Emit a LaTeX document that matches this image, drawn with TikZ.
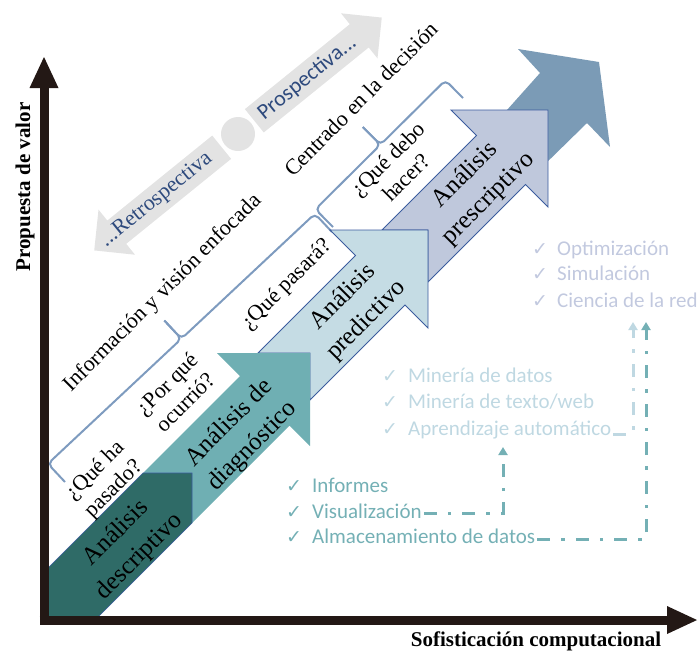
\documentclass[tikz,border=0pt]{standalone}
\usepackage{fontspec}
\setmainfont{Liberation Serif}
\newfontfamily\calib{Carlito}
\newfontfamily\djv{DejaVu Sans}
\usetikzlibrary{arrows.meta}
\definecolor{axiscol}{HTML}{231815}
\definecolor{grayarr}{HTML}{E3E3E3}
\definecolor{navy}{HTML}{2E4A7D}
\definecolor{darkteal}{HTML}{2F6B67}
\definecolor{midteal}{HTML}{6FAFB3}
\definecolor{lightblue}{HTML}{C5DCE4}
\definecolor{lavender}{HTML}{BFC8DC}
\definecolor{steel}{HTML}{7B9BB6}
\definecolor{bordercol}{HTML}{3B5C9E}
\definecolor{bracecol}{HTML}{7E9BBF}
\definecolor{listteal}{HTML}{74B0B5}
\definecolor{listblue}{HTML}{BFD8E2}
\definecolor{listlav}{HTML}{C2C9DF}
\tikzset{
  lbl/.style={font=\fontsize{22pt}{26pt}\selectfont, align=center, rotate=45, inner sep=0pt},
  arrlbl/.style={font=\fontsize{25pt}{33pt}\selectfont, align=center, rotate=45, inner sep=0pt},
  grylbl/.style={font=\fontsize{22pt}{26pt}\selectfont, text=navy, rotate=39, inner sep=0pt},
  axlbl/.style={font=\bfseries\fontsize{21pt}{25pt}\selectfont, inner sep=0pt},
  li/.style={anchor=base west, inner sep=0pt, font=\calib\fontsize{21pt}{24pt}\selectfont},
  ck/.style={anchor=base west, inner sep=0pt, font=\djv\fontsize{19pt}{20pt}\selectfont},
  dd/.style={line width=3pt, dash pattern=on 13pt off 11pt on 3.5pt off 11pt, -{Triangle[length=8pt,width=9pt]}},
  brc/.style={draw=bracecol, line width=2pt, rounded corners=5pt},
  bigarr/.style={draw=bordercol, line width=0.9pt, line join=miter},
}
\begin{document}
\begin{tikzpicture}[x=1pt, y=-1pt]
\useasboundingbox (0,0) rectangle (700,654);

% gray double arrow
\begin{scope}[shift={(238,134)}, rotate=39]
  \fill[grayarr] (21,-15) -- (156,-15) -- (156,-29) -- (185,0) -- (156,29) -- (156,15) -- (21,15) -- cycle;
  \fill[grayarr] (-21,-15) -- (-156,-15) -- (-156,-29) -- (-185,0) -- (-156,29) -- (-156,15) -- (-21,15) -- cycle;
  \fill[grayarr] (0,0) circle (17);
  \node[grylbl, font=\calib\fontsize{22pt}{26pt}\selectfont] (pros) at (89,0) {Prospectiva...};
  \node[grylbl] (retro) at (-105,0) {...Retrospectiva};
\end{scope}

% braces
\draw[brc] (65,482) -- (47.9,463.75) -- (181.4,338.75) -- (164.35,320.5);
\draw[brc] (164.35,320.5) -- (181.4,338.75) -- (314.9,213.75) -- (332,232);
\draw[brc] (333,227) -- (315.4,209.25) -- (380.4,144.75) -- (362.8,127);
\draw[brc] (362.8,127) -- (380.4,144.75) -- (445.4,80.25) -- (463,98);

% big arrows (back to front)
\fill[steel] (490,129) -- (540,73) -- (518,49) -- (599,62) -- (610,147) -- (587,123) -- (540,169) -- cycle;
\filldraw[bigarr, fill=lavender] (382,230) -- (476.5,135.5) -- (451,110) -- (548,110) -- (548,207) -- (525.5,184.5) -- (428,282) -- (428,230) -- cycle;
\filldraw[bigarr, fill=lightblue] (258,353) -- (355.5,255.5) -- (330,230) -- (428,230) -- (428,328) -- (405,305) -- (310,400) -- (310,353) -- cycle;
\fill[midteal] (143,473) -- (240,376) -- (217,353) -- (310,353) -- (310,446) -- (289.5,425.5) -- (192,523) -- (192,473) -- cycle;
\filldraw[bigarr, fill=darkteal, line width=0.6pt] (45,571) -- (143,473) -- (192,473) -- (192,523) -- (95,620) -- (45,620) -- cycle;

% arrow labels
\node[arrlbl] (desc) at (128,545) {Análisis\\descriptivo};
\node[arrlbl] (diag) at (241,435) {Análisis de\\diagnóstico};
\node[arrlbl] (pred) at (355,309) {Análisis\\predictivo};
\node[arrlbl] (pres) at (477,187) {Análisis\\prescriptivo};

% question labels
\node[lbl] (q1) at (105,480) {¿Qué ha\\pasado?};
\node[lbl] (q2) at (176,393) {¿Por qué\\ocurrió?};
\node[lbl] (q3) at (287,285) {¿Qué pasará?};
\node[lbl] (q4) at (397,168) {¿Qué debo\\hacer?};
\node[lbl] (info) at (163,293) {Información y visión enfocada};
\node[lbl] (cent) at (361,99) {Centrado en la decisión};

% lists
\begin{scope}[text=listteal]
  \node[ck] (k1) at (286,492) {✓};
  \node[li] (inf) at (312,492) {Informes};
  \node[ck] (k2) at (286,518) {✓};
  \node[li] (vis) at (312,518) {Visualización};
  \node[ck] (k3) at (286,543) {✓};
  \node[li] (alm) at (312,543) {Almacenamiento de datos};
\end{scope}
\begin{scope}[text=listblue]
  \node[ck] (k4) at (382,382) {✓};
  \node[li] (min) at (408,382) {Minería de datos};
  \node[ck] (k5) at (382,408) {✓};
  \node[li] (mtw) at (408,408) {Minería de texto/web};
  \node[ck] (k6) at (382,435) {✓};
  \node[li] (apr) at (408,435) {Aprendizaje automático};
\end{scope}
\begin{scope}[text=listlav]
  \node[ck] (k7) at (532,255) {✓};
  \node[li] (opt) at (557,255) {Optimización};
  \node[ck] (k8) at (532,280) {✓};
  \node[li] (sim) at (557,280) {Simulación};
  \node[ck] (k9) at (532,307) {✓};
  \node[li] (cie) at (557,307) {Ciencia de la red};
\end{scope}

% connectors
\coordinate (t1) at (503,447);
\coordinate (t2) at (646,322);
\coordinate (t3) at (633,322);
\draw[dd, draw=listteal] ([xshift=2pt,yshift=5pt]vis.base east) -| (t1);
\draw[dd, draw=listteal] ([xshift=2pt,yshift=4pt]alm.base east) -| (t2);
\draw[dd, draw=listblue] ([xshift=2pt,yshift=1pt]apr.base east) -| (t3);

% axes
\draw[axiscol, line width=9pt] (44,624.5) -- (44,85);
\fill[axiscol] (29.5,88) -- (44,57) -- (58.5,88) -- cycle;
\draw[axiscol, line width=9pt] (39.5,620) -- (670,620);
\fill[axiscol] (667,606) -- (697,620) -- (667,634) -- cycle;
\node[axlbl, rotate=90] (ylab) at (25,187) {Propuesta de valor};
\node[axlbl] (xlab) at (536,641) {Sofisticación computacional};
\end{tikzpicture}
\end{document}
